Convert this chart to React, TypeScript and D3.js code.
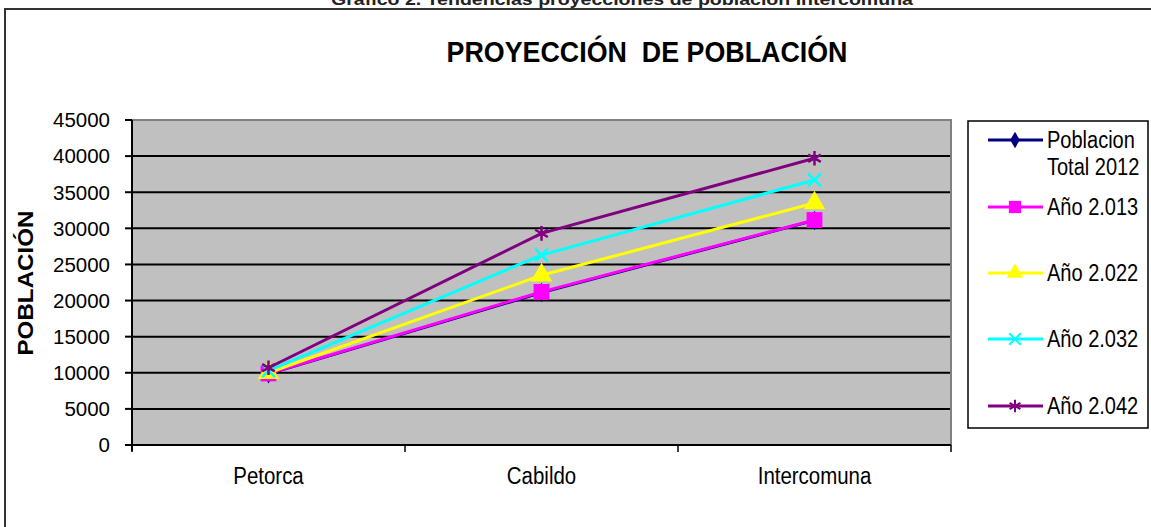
import React from "react";
import * as d3 from "d3";

const categories = ["Petorca", "Cabildo", "Intercomuna"];
const seriesNames = ["Poblacion Total 2012", "Año 2.013", "Año 2.022", "Año 2.032", "Año 2.042"];
const pob2012 = [9850, 21100, 31100];
const anio2013 = [9900, 21200, 31150];
const anio2022 = [10000, 23500, 33500];
const anio2032 = [10300, 26300, 36700];
const anio2042 = [10700, 29300, 39700];
const yTicks = [0, 5000, 10000, 15000, 20000, 25000, 30000, 35000, 40000, 45000];

const seriesValues = [pob2012, anio2013, anio2022, anio2032, anio2042];
const colors = ["#000080", "#FF00FF", "#FFFF00", "#00FFFF", "#800080"];
const symbols = [d3.symbolDiamond, d3.symbolSquare, d3.symbolTriangle, d3.symbolX, d3.symbolAsterisk];
const symSizes = [110, 250, 200, 110, 150];
const legSizes = [80, 150, 120, 90, 110];
const filled = [true, true, true, false, false];

const W = 1151;
const H = 527;
const plot = { left: 132, right: 951, top: 120, bottom: 445 };

export default function App() {
  const x = d3.scaleBand<string>().domain(categories).range([plot.left, plot.right]);
  const y = d3.scaleLinear().domain([0, 45000]).range([plot.bottom, plot.top]);
  const cx = (c: string) => (x(c) as number) + x.bandwidth() / 2;
  const line = d3
    .line<number>()
    .x((_, i) => cx(categories[i]))
    .y((v) => y(v));

  const font = "'Liberation Sans', Arial, sans-serif";
  const legX = 968;
  const legY = 121;
  const legRows = [140, 207, 273, 339, 406];

  return (
    <svg
      width={W}
      height={H}
      style={{ position: "absolute", left: 0, top: 0, display: "block", background: "#fff" }}
      fontFamily={font}
    >
      {/* caption clipped at top, as in the reference */}
      <text x={622} y={5} textAnchor="middle" fontSize={17} fontWeight="bold" textLength={582} lengthAdjust="spacingAndGlyphs" fill="#222">
        Gráfico 2. Tendencias proyecciones de población Intercomuna
      </text>
      {/* outer frame */}
      <rect x={5} y={9} width={W + 10} height={H + 10} fill="none" stroke="#333" strokeWidth={2} />

      {/* title */}
      <text x={647} y={62} textAnchor="middle" fontSize={29} fontWeight="bold" textLength={401} lengthAdjust="spacingAndGlyphs" fill="#000">
        {"PROYECCIÓN\u00A0 DE POBLACIÓN"}
      </text>

      {/* plot area */}
      <rect x={plot.left} y={plot.top} width={plot.right - plot.left} height={plot.bottom - plot.top} fill="#C0C0C0" stroke="#808080" strokeWidth={2} />

      {/* gridlines */}
      {yTicks.filter((t) => t > 0 && t < 45000).map((t) => (
        <line key={t} x1={plot.left} x2={plot.right - 1} y1={y(t)} y2={y(t)} stroke="#000" strokeWidth={2} />
      ))}

      {/* y axis */}
      <line x1={plot.left} x2={plot.left} y1={plot.top} y2={plot.bottom + 6} stroke="#000" strokeWidth={2} />
      {yTicks.map((t) => (
        <g key={t}>
          <line x1={plot.left - 7} x2={plot.left} y1={y(t)} y2={y(t)} stroke="#000" strokeWidth={2} />
          <text x={110} y={y(t)} dy="0.36em" textAnchor="end" fontSize={20.5} fill="#000">
            {t}
          </text>
        </g>
      ))}

      {/* x axis */}
      <line x1={plot.left - 7} x2={plot.right} y1={plot.bottom} y2={plot.bottom} stroke="#000" strokeWidth={2} />
      {[...categories.map((c) => x(c) as number), plot.right].map((v, i) => (
        <line key={i} x1={v} x2={v} y1={plot.bottom} y2={plot.bottom + 7} stroke="#000" strokeWidth={1.5} />
      ))}
      {categories.map((c) => (
        <text key={c} transform={`translate(${cx(c)},${484}) scale(0.87,1)`} textAnchor="middle" fontSize={23.5} fill="#000">
          {c}
        </text>
      ))}

      {/* y axis title */}
      <text transform={`translate(33,283) rotate(-90)`} textAnchor="middle" fontSize={22} fontWeight="bold" textLength={145} lengthAdjust="spacingAndGlyphs" fill="#000">
        POBLACIÓN
      </text>

      {/* series */}
      {seriesValues.map((vals, si) => (
        <g key={si}>
          <path d={line(vals) || ""} fill="none" stroke={colors[si]} strokeWidth={3} />
          {vals.map((v, i) => (
            <path
              key={i}
              transform={`translate(${cx(categories[i])},${y(v)})`}
              d={d3.symbol(symbols[si], symSizes[si])() || ""}
              fill={filled[si] ? colors[si] : "none"}
              stroke={colors[si]}
              strokeWidth={filled[si] ? 0 : 2.5}
            />
          ))}
        </g>
      ))}

      {/* legend */}
      <rect x={legX} y={legY} width={180} height={307} fill="#fff" stroke="#000" strokeWidth={1.5} />
      {seriesNames.map((name, si) => {
        const ry = legRows[si];
        const lines = si === 0 ? ["Poblacion", "Total 2012"] : [name];
        return (
          <g key={si}>
            <line x1={988} x2={1043} y1={ry} y2={ry} stroke={colors[si]} strokeWidth={3} />
            <path
              transform={`translate(1015,${ry})`}
              d={d3.symbol(symbols[si], legSizes[si])() || ""}
              fill={filled[si] ? colors[si] : "none"}
              stroke={colors[si]}
              strokeWidth={filled[si] ? 0 : 2}
            />
            {lines.map((l, li) => (
              <text key={li} transform={`translate(1047,${ry + 8 + li * 27}) scale(0.87,1)`} fontSize={23} fill="#000">
                {l}
              </text>
            ))}
          </g>
        );
      })}
    </svg>
  );
}
